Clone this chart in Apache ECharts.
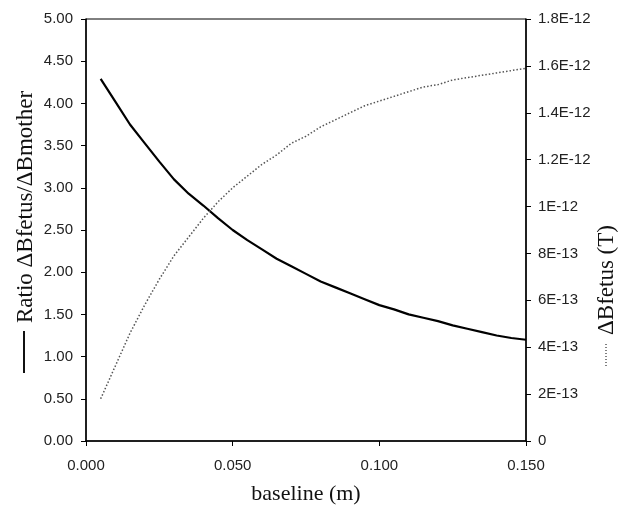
<!DOCTYPE html>
<html>
<head>
<meta charset="utf-8">
<script src="https://cdn.jsdelivr.net/npm/echarts@6/dist/echarts.min.js"></script>
<style>html,body{margin:0;padding:0;background:#fff;}#c{width:621px;height:511px;}</style>
</head>
<body>
<div id="c"></div>
<script>
// baseline (m)
var baseline = [0.005,0.010,0.015,0.020,0.025,0.030,0.035,0.040,0.045,0.050,0.055,0.060,0.065,0.070,0.075,0.080,0.085,0.090,0.095,0.100,0.105,0.110,0.115,0.120,0.125,0.130,0.135,0.140,0.145,0.150];
// Ratio dBfetus/dBmother (left axis)
var ratio = [4.29,4.02,3.75,3.53,3.31,3.10,2.93,2.79,2.64,2.50,2.38,2.27,2.16,2.07,1.98,1.89,1.82,1.75,1.68,1.61,1.56,1.50,1.46,1.42,1.37,1.33,1.29,1.25,1.22,1.20];
// dBfetus (T) (right axis)
var bfetus = [1.8e-13,3.2e-13,4.6e-13,5.8e-13,6.9e-13,7.9e-13,8.7e-13,9.5e-13,1.02e-12,1.08e-12,1.13e-12,1.18e-12,1.22e-12,1.27e-12,1.30e-12,1.34e-12,1.37e-12,1.40e-12,1.43e-12,1.45e-12,1.47e-12,1.49e-12,1.51e-12,1.52e-12,1.54e-12,1.55e-12,1.56e-12,1.57e-12,1.58e-12,1.59e-12];
// tick labels
var xTickLabels = ["0.000","0.050","0.100","0.150"];
var leftTickLabels = ["0.00","0.50","1.00","1.50","2.00","2.50","3.00","3.50","4.00","4.50","5.00"];
var rightTickLabels = ["0","2E-13","4E-13","6E-13","8E-13","1E-12","1.2E-12","1.4E-12","1.6E-12","1.8E-12"];
var xTitle = "baseline (m)";
var leftTitle = "Ratio \u0394Bfetus/\u0394Bmother";
var rightTitle = "\u0394Bfetus (T)";

var chart = echarts.init(document.getElementById('c'), null, {renderer:'canvas'});
var tickFont = {fontFamily:'Liberation Sans, Arial, sans-serif', fontSize:15, color:'#222'};
var titleFont = 'Liberation Serif, Times New Roman, serif';

var option = {
  animation:false,
  backgroundColor:'#fff',
  grid:{left:86, right:95, top:19, bottom:70, show:true, borderColor:'#000', borderWidth:1, backgroundColor:'transparent'},
  xAxis:{
    type:'value', min:0, max:0.15, interval:0.05,
    axisLine:{show:true, onZero:false, lineStyle:{color:'#000', width:1.5}},
    axisTick:{show:true, length:5, lineStyle:{color:'#000'}},
    axisLabel:Object.assign({margin:17, formatter:function(v,i){return xTickLabels[i];}}, tickFont),
    splitLine:{show:false}
  },
  yAxis:[
    {
      type:'value', min:0, max:5, interval:0.5, position:'left',
      axisLine:{show:true, onZero:false, lineStyle:{color:'#000', width:1.5}},
      axisTick:{show:true, length:5, lineStyle:{color:'#000'}},
      axisLabel:Object.assign({margin:13, formatter:function(v,i){return leftTickLabels[i];}}, tickFont),
      splitLine:{show:false}
    },
    {
      type:'value', min:0, max:1.8e-12, interval:2e-13, position:'right',
      axisLine:{show:true, onZero:false, lineStyle:{color:'#000', width:1.5}},
      axisTick:{show:true, length:5, lineStyle:{color:'#000'}},
      axisLabel:Object.assign({margin:12, formatter:function(v,i){return rightTickLabels[i];}}, tickFont),
      splitLine:{show:false}
    }
  ],
  series:[
    {
      type:'line', yAxisIndex:0, showSymbol:false, symbol:'none', smooth:false,
      data:baseline.map(function(x,i){return [x, ratio[i]];}),
      lineStyle:{color:'#000', width:2.2}
    },
    {
      type:'line', yAxisIndex:1, showSymbol:false, symbol:'none', smooth:false,
      data:baseline.map(function(x,i){return [x, bfetus[i]];}),
      lineStyle:{color:'#555', width:1.5, type:[1.5,2]}
    }
  ],
  graphic:[
    {type:'text', x:306, y:494, style:{text:xTitle, font:'22px '+titleFont, fill:'#111', textAlign:'center', textVerticalAlign:'middle'}},
    {type:'text', x:26, y:207, rotation:Math.PI/2, style:{text:leftTitle, font:'23px '+titleFont, fill:'#111', textAlign:'center', textVerticalAlign:'middle'}},
    {type:'line', shape:{x1:24, y1:331, x2:24, y2:373}, style:{stroke:'#111', lineWidth:2}},
    {type:'text', x:607, y:280, rotation:Math.PI/2, style:{text:rightTitle, font:'23px '+titleFont, fill:'#111', textAlign:'center', textVerticalAlign:'middle'}},
    {type:'line', shape:{x1:606, y1:344, x2:606, y2:368}, style:{stroke:'#555', lineWidth:1.5, lineDash:[1,2]}}
  ]
};
chart.setOption(option);
</script>
</body>
</html>
